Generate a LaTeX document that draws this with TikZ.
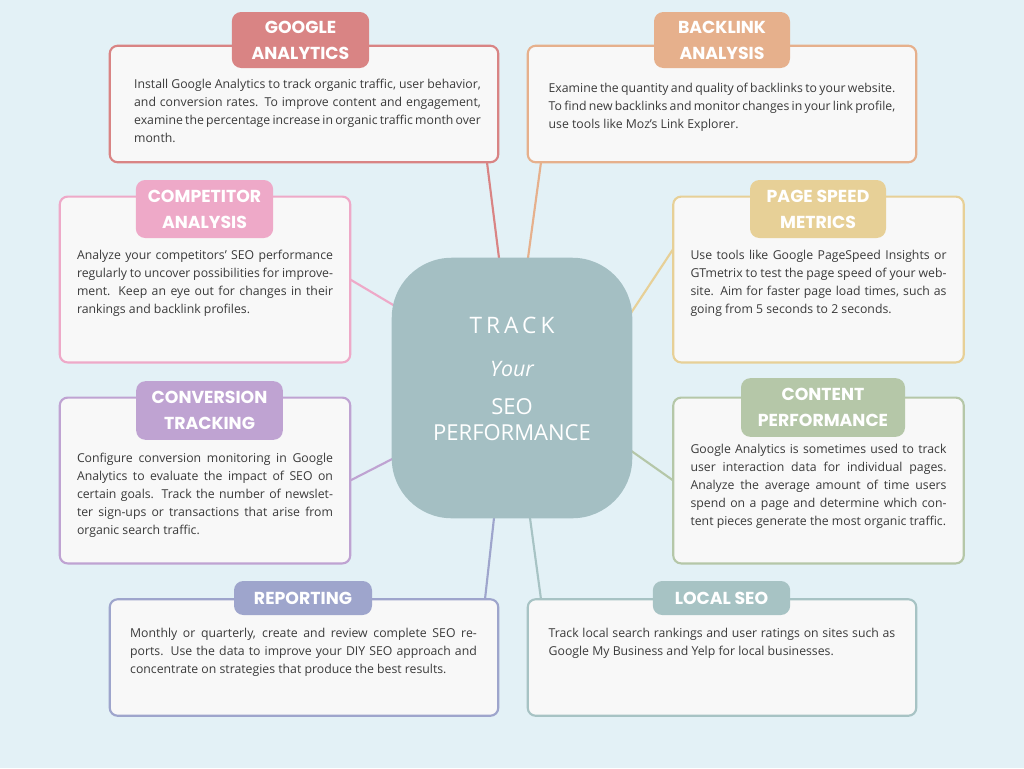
\documentclass[tikz,border=0pt]{standalone}
\usepackage{fontspec}
\setmainfont{Open Sans}
\newfontfamily\titlefont{Poppins}
\usetikzlibrary{positioning}
\definecolor{bgblue}{HTML}{E3F1F6}
\definecolor{boxfill}{HTML}{F8F8F8}
\definecolor{bodytext}{HTML}{3A3A3A}
\definecolor{trackc}{HTML}{A4BFC3}
\definecolor{gac}{HTML}{D98484}
\definecolor{blc}{HTML}{E6B08C}
\definecolor{cpc}{HTML}{EEA9C8}
\definecolor{psc}{HTML}{E7D097}
\definecolor{cvc}{HTML}{BFA3D2}
\definecolor{ctc}{HTML}{B5C7A8}
\definecolor{rpc}{HTML}{9EA5CC}
\definecolor{lsc}{HTML}{A7C3C4}
\tikzset{
  card/.style={draw=#1, fill=boxfill, line width=1.6pt, rounded corners=6pt, inner sep=0pt},
  tab/.style={fill=#1, rounded corners=7pt, text=white, align=center, inner sep=0pt,
    font=\titlefont\fontsize{13}{19.5}\selectfont\bfseries},
  body/.style={anchor=north, inner sep=0pt, text width=#1, align=justify, text=bodytext,
    font=\fontsize{9.2}{13.5}\selectfont},
  link/.style={draw=#1, line width=1.6pt}
}
\begin{document}
\begin{tikzpicture}[x=0.75pt,y=-0.75pt]
\fill[bgblue] (0,0) rectangle (1024,768);
\useasboundingbox (0,0) rectangle (1024,768);
% connectors (behind everything)
\coordinate (dummy) at (512,388);
\node[minimum width=180pt, minimum height=195pt, inner sep=0pt] (trk) at (512,388) {};
\node[minimum width=291pt, minimum height=87pt] (ga) at (304,104) {};
\node[minimum width=291pt, minimum height=87pt] (bl) at (722,104) {};
\node[minimum width=217.5pt, minimum height=124pt] (cp) at (205,279.5) {};
\node[minimum width=217.5pt, minimum height=124pt] (ps) at (818.5,279.5) {};
\node[minimum width=217.5pt, minimum height=124pt] (cv) at (205,480.5) {};
\node[minimum width=217.5pt, minimum height=124pt] (ct) at (818.5,480.5) {};
\node[minimum width=291pt, minimum height=87pt] (rp) at (304,657.5) {};
\node[minimum width=291pt, minimum height=87pt] (ls) at (722,657.5) {};
\draw[link=gac] ([xshift=137.25pt]ga.south) -- ([shift={(-9.75pt,97.5pt)}]trk.center);
\draw[link=blc] ([xshift=-135.75pt]bl.south) -- ([shift={(12pt,97.5pt)}]trk.center);
\draw[link=cpc] (cp.east) -- ([shift={(-80.25pt,57pt)}]trk.center);
\draw[link=psc] ([yshift=22.9pt]ps.west) -- ([shift={(84.75pt,49.5pt)}]trk.center);
\draw[link=cvc] (cv.east) -- ([shift={(-84pt,-50.25pt)}]trk.center);
\draw[link=ctc] (ct.west) -- ([shift={(88.5pt,-46.5pt)}]trk.center);
\draw[link=rpc] ([xshift=135.75pt]rp.north) -- ([shift={(-13.5pt,-97.5pt)}]trk.center);
\draw[link=lsc] ([xshift=-135.75pt]ls.north) -- ([shift={(13.5pt,-97.5pt)}]trk.center);
% centre
\fill[trackc, rounded corners=45pt] (trk.south west) rectangle (trk.north east);
\node[text=white, font=\addfontfeatures{LetterSpace=18}\fontsize{17}{20}\selectfont] (trkA) at (512,325) {TRACK};
\node[text=white, font=\itshape\fontsize{16}{20}\selectfont] (trkB) at (512,369) {Your};
\node[text=white, align=center, font=\fontsize{16.5}{19.5}\selectfont] (trkC) at (512,420) {SEO\\PERFORMANCE};
% cards
\draw[card=gac] (ga.south west) rectangle (ga.north east);
\draw[card=blc] (bl.south west) rectangle (bl.north east);
\draw[card=cpc] (cp.south west) rectangle (cp.north east);
\draw[card=psc] (ps.south west) rectangle (ps.north east);
\draw[card=cvc] (cv.south west) rectangle (cv.north east);
\draw[card=ctc] (ct.south west) rectangle (ct.north east);
\draw[card=rpc] (rp.south west) rectangle (rp.north east);
\draw[card=lsc] (ls.south west) rectangle (ls.north east);
% tabs
\node[tab=gac, minimum width=103pt, minimum height=42pt] (gatab) at (300.5,40) {GOOGLE\\ANALYTICS};
\node[tab=blc, minimum width=102pt, minimum height=42pt] (bltab) at (722,40) {BACKLINK\\ANALYSIS};
\node[tab=cpc, minimum width=103pt, minimum height=43.5pt] (cptab) at (204.5,209) {COMPETITOR\\ANALYSIS};
\node[tab=psc, minimum width=102pt, minimum height=43.5pt] (pstab) at (818,209) {PAGE SPEED\\METRICS};
\node[tab=cvc, minimum width=110pt, minimum height=44pt] (cvtab) at (209.5,410.5) {CONVERSION\\TRACKING};
\node[tab=ctc, minimum width=123pt, minimum height=44pt] (cttab) at (823,407.5) {CONTENT\\PERFORMANCE};
\node[tab=rpc, minimum width=103.5pt, minimum height=25.5pt] (rptab) at (303,598) {REPORTING};
\node[tab=lsc, minimum width=103pt, minimum height=25.5pt] (lstab) at (721.5,598) {LOCAL SEO};
% texts
\node[body=260pt] (gatxt) at (307.5,79) {Install Google Analytics to track organic traffic, user behavior, and conversion rates. To improve content and engagement, examine the percentage increase in organic traffic month over month.};
\node[body=260pt] (bltxt) at (722,83) {Examine the quantity and quality of backlinks to your website. To find new backlinks and monitor changes in your link profile, use tools like Moz's Link Explorer.};
\node[body=192pt] (cptxt) at (205,250) {Analyze your competitors' SEO performance regularly to uncover possibilities for improvement. Keep an eye out for changes in their rankings and backlink profiles.};
\node[body=192pt] (pstxt) at (818.5,250) {Use tools like Google PageSpeed Insights or GTmetrix to test the page speed of your website. Aim for faster page load times, such as going from 5 seconds to 2 seconds.};
\node[body=192pt] (cvtxt) at (205,453) {Configure conversion monitoring in Google Analytics to evaluate the impact of SEO on certain goals. Track the number of newsletter sign-ups or transactions that arise from organic search traffic.};
\node[body=192pt] (cttxt) at (818.5,444) {Google Analytics is sometimes used to track user interaction data for individual pages. Analyze the average amount of time users spend on a page and determine which content pieces generate the most organic traffic.};
\node[body=260pt] (rptxt) at (303.5,628) {Monthly or quarterly, create and review complete SEO reports. Use the data to improve your DIY SEO approach and concentrate on strategies that produce the best results.};
\node[body=260pt] (lstxt) at (722,628) {Track local search rankings and user ratings on sites such as Google My Business and Yelp for local businesses.};
\end{tikzpicture}
\end{document}
